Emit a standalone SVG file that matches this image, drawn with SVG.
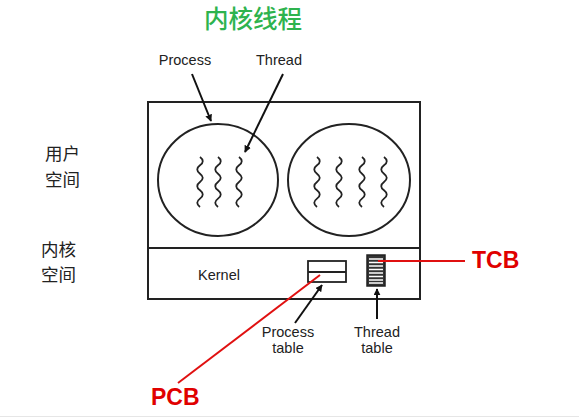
<svg xmlns="http://www.w3.org/2000/svg" width="579" height="418" viewBox="0 0 579 418">
<defs>
<marker id="ah" viewBox="0 0 10 10" refX="9" refY="5" markerWidth="7" markerHeight="7" orient="auto" markerUnits="userSpaceOnUse"><path d="M0,0 L10,5 L0,10 z" fill="#111"/></marker>
<path id="wave" d="M0,0 q5.5,4.2 0,8.33 t0,8.33 t0,8.33 t0,8.33 t0,8.33 t0,8.33" fill="none" stroke="#222" stroke-width="1.8"/>
</defs>
<style>
.lbl{font-family:"Liberation Sans",Arial,sans-serif;font-size:14.5px;fill:#222}
.cjk{font-family:"Noto Sans CJK SC",sans-serif;font-size:17.5px;fill:#222}
.red{font-family:"Liberation Sans",Arial,sans-serif;font-size:23px;font-weight:bold;fill:#e00000}
.shape{fill:none;stroke:#222;stroke-width:2}
.arrow{stroke:#111;stroke-width:2;fill:none;marker-end:url(#ah)}
.redline{stroke:#e01010;stroke-width:2;fill:none}
</style>
<rect width="579" height="418" fill="#fff"/>
<text x="253" y="28" text-anchor="middle" style="font-family:'Noto Sans CJK SC',sans-serif;font-size:24.5px;font-weight:500;fill:#2eb34e">内核线程</text>
<g id="labels-left">
<text class="cjk" x="45" y="160">用户</text>
<text class="cjk" x="45" y="185.5">空间</text>
<text class="cjk" x="41" y="255.5">内核</text>
<text class="cjk" x="41" y="281">空间</text>
</g>
<g id="box">
<rect class="shape" x="148" y="102" width="272" height="197"/>
<line class="shape" x1="148" y1="248" x2="420" y2="248"/>
</g>
<g id="process1">
<ellipse class="shape" cx="218" cy="180" rx="60" ry="56"/>
<use href="#wave" x="200" y="157"/>
<use href="#wave" x="218" y="157"/>
<use href="#wave" x="239" y="157"/>
</g>
<g id="process2">
<ellipse class="shape" cx="349" cy="180" rx="61" ry="56"/>
<use href="#wave" x="317" y="157"/>
<use href="#wave" x="339" y="157"/>
<use href="#wave" x="362" y="157"/>
<use href="#wave" x="384" y="157"/>
</g>
<g id="kernel">
<text class="lbl" x="198" y="280">Kernel</text>
</g>
<g id="process-table">
<rect x="308" y="261" width="38" height="21" fill="#fff" stroke="#222" stroke-width="1.8"/>
<line x1="308" y1="272" x2="346" y2="272" stroke="#222" stroke-width="1.8"/>
</g>
<g id="thread-table">
<rect x="367" y="255" width="18" height="31" fill="#333" stroke="#222" stroke-width="1.5"/>
<path d="M369,259h14M369,262.5h14M369,266h14M369,269.5h14M369,273h14M369,276.5h14M369,280h14M369,283h14" stroke="#fff" stroke-width="1.3"/>
</g>
<g id="text-labels">
<text class="lbl" x="185" y="65" text-anchor="middle">Process</text>
<text class="lbl" x="279" y="65" text-anchor="middle">Thread</text>
<text class="lbl" x="288" y="337" text-anchor="middle">Process</text>
<text class="lbl" x="288" y="353" text-anchor="middle">table</text>
<text class="lbl" x="377" y="337" text-anchor="middle">Thread</text>
<text class="lbl" x="377" y="353" text-anchor="middle">table</text>
<text class="red" x="472" y="268">TCB</text>
<text class="red" x="151" y="405">PCB</text>
</g>
<g id="connectors">
<line class="arrow" x1="192" y1="74" x2="211" y2="121"/>
<line class="arrow" x1="283" y1="74" x2="245" y2="152"/>
<line class="arrow" x1="295" y1="323" x2="322" y2="285"/>
<line class="arrow" x1="377" y1="319" x2="377" y2="289"/>
<line class="redline" x1="378" y1="261" x2="465" y2="261"/>
<line class="redline" x1="320" y1="275" x2="178" y2="383"/>
</g>
<line x1="0" y1="416.5" x2="579" y2="416.5" stroke="#e6e6e6" stroke-width="1"/>
</svg>
